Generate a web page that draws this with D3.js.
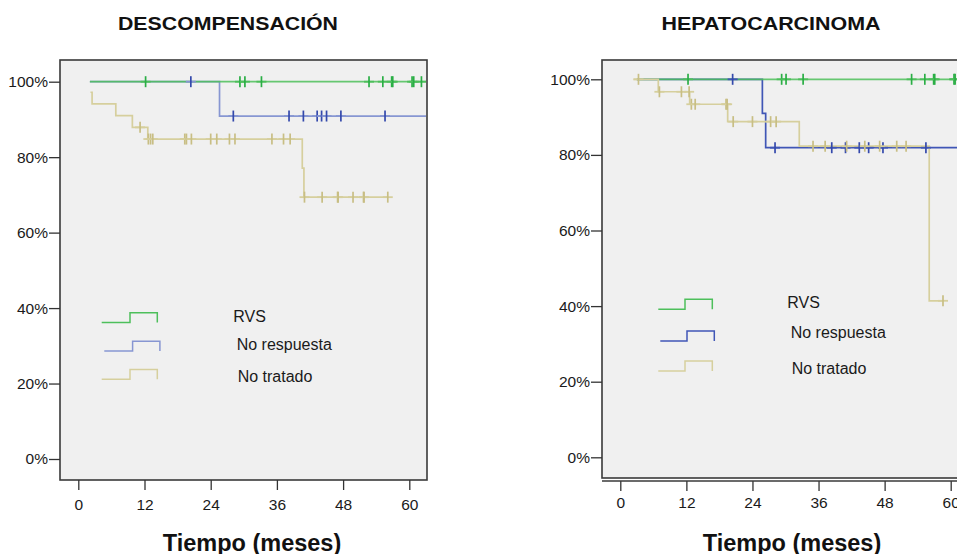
<!DOCTYPE html>
<html><head><meta charset="utf-8">
<script src="https://cdn.jsdelivr.net/npm/d3@7"></script>
<style>
html,body{margin:0;padding:0;background:#fff;}
svg{display:block;font-family:"Liberation Sans",Arial,sans-serif;}
</style></head>
<body>
<svg id="chart" width="957" height="554"></svg>
<script>
// ---------- DATA ----------
const monthTicks = [0, 12, 24, 36, 48, 60];
const pctTicks = [0, 20, 40, 60, 80, 100];
const seriesNames = ["RVS", "No respuesta", "No tratado"];
const panelTitles = ["DESCOMPENSACIÓN", "HEPATOCARCINOMA"];
const xTitle = "Tiempo (meses)";

// Descompensación: steps [month, survival %], end month, censored months
const descRVSSteps = [[2.1, 100]];
const descRVSEnd = 64;
const descRVSCens = [12.2, 29.3, 30.2, 33.2, 52.7, 55.2, 56.8, 57.0, 60.5, 60.8, 62.2];

const descNRSteps = [[2.1, 100], [25.6, 90.9]];
const descNREnd = 64;
const descNRCens = [20.4, 28.1, 38.2, 40.8, 43.3, 44.1, 45.0, 47.6, 55.6];

const descNTSteps = [[2.2, 97.2], [2.5, 94.1], [6.8, 91.0], [9.8, 87.9], [12.6, 84.8], [40.6, 77.1], [40.9, 69.4]];
const descNTEnd = 56.1;
const descNTCens = [11.2, 12.7, 13.1, 13.5, 19.3, 19.6, 20.5, 24.0, 25.1, 27.4, 28.4, 35.1, 37.2, 38.4,
                    41.0, 44.2, 47.0, 47.1, 49.8, 51.7, 51.8, 56.1];

// Hepatocarcinoma
const hepRVSSteps = [[3.0, 100]];
const hepRVSEnd = 64;
const hepRVSCens = [12.3, 29.3, 30.1, 33.2, 52.9, 55.3, 56.9, 57.1, 60.6, 60.8, 62.2];

const hepNRSteps = [[3.0, 100], [25.8, 91.0], [26.4, 81.9]];
const hepNREnd = 64;
const hepNRCens = [20.4, 28.1, 38.4, 40.9, 43.4, 45.1, 47.7, 55.5];

const hepNTSteps = [[2.4, 100], [6.9, 96.7], [12.6, 93.4], [19.5, 88.8], [32.5, 82.3], [56.1, 41.4]];
const hepNTEnd = 58.6;
const hepNTCens = [3.3, 7.1, 11.1, 12.5, 12.9, 13.6, 19.2, 19.4, 20.5, 24.0, 27.3, 28.3,
                   35.0, 37.2, 41.1, 44.4, 47.1, 50.2, 51.9, 58.6];

// ---------- LAYOUT / STYLE ----------
const svg = d3.select("#chart");
const lineColors = ["#4dbf5b", "#8a99d2", "#d6cf9d"];
const censColors = ["#2aae45", "#3449ac", "#c8be84"];
const drawOrder = [1, 0, 2];

const panels = [
  { title: panelTitles[0], titleX: 228, titleLen: 220,
    box: {x0: 60, y0: 60, x1: 427, y1: 480}, axisY: 480, labelPad: 8.5,
    xRange: [78.3, 409.3], yRange: [459, 81.7], xTitleX: 252,
    blueLine: "#8796d2",
    series: [
      {steps: descRVSSteps, end: descRVSEnd, cens: descRVSCens},
      {steps: descNRSteps, end: descNREnd, cens: descNRCens},
      {steps: descNTSteps, end: descNTEnd, cens: descNTCens}],
    legend: {sx: [101.7, 130, 157.3], dx: [0, 2.6, 0], sy: [322.5, 351, 379.3], h: 9.7,
             tx: [233.3, 236.7, 237.7], ty: [316.5, 344, 376]} },
  { title: panelTitles[1], titleX: 771, titleLen: 219,
    box: {x0: 602, y0: 60, x1: 969, y1: 478}, axisY: 481, labelPad: 5.5, doubleAxis: true,
    xRange: [620.3, 950.7], yRange: [457.3, 79.3], xTitleX: 792,
    blueLine: "#4056b6",
    series: [
      {steps: hepRVSSteps, end: hepRVSEnd, cens: hepRVSCens},
      {steps: hepNRSteps, end: hepNREnd, cens: hepNRCens},
      {steps: hepNTSteps, end: hepNTEnd, cens: hepNTCens}],
    legend: {sx: [658.3, 685, 712.3], dx: [0, 2, 0], sy: [309.3, 341, 371], h: 10,
             tx: [787.3, 790.7, 791.7], ty: [302.5, 332.5, 368.3]} }
];

panels.forEach((p, pi) => {
  const g = svg.append("g");
  const b = p.box;
  const x = d3.scaleLinear().domain([0, 60]).range(p.xRange);
  const y = d3.scaleLinear().domain([0, 100]).range(p.yRange);

  // title
  g.append("text").attr("x", p.titleX).attr("y", 30).attr("text-anchor", "middle")
    .attr("font-size", 19).attr("font-weight", "bold").attr("fill", "#111")
    .attr("textLength", p.titleLen).attr("lengthAdjust", "spacingAndGlyphs").text(p.title);

  // plot background & box
  g.append("rect").attr("x", b.x0).attr("y", b.y0).attr("width", b.x1 - b.x0).attr("height", b.y1 - b.y0)
    .attr("fill", "#f0f0f0").attr("stroke", "#3a3a3a").attr("stroke-width", 1.6);

  const clipId = "clip" + pi;
  svg.append("defs").append("clipPath").attr("id", clipId)
    .append("rect").attr("x", b.x0 + 1).attr("y", b.y0 + 1).attr("width", b.x1 - b.x0 - 2).attr("height", b.y1 - b.y0 - 2);

  // axes
  const yAxis = d3.axisLeft(y).tickValues(pctTicks).tickSize(11).tickPadding(1)
    .tickFormat(d => d + "%");
  const ya = g.append("g").attr("transform", `translate(${b.x0},0)`).call(yAxis);
  ya.select(".domain").remove();
  ya.selectAll(".tick line").attr("stroke", "#333").attr("stroke-width", 1.3);
  ya.selectAll("text").attr("font-size", 15.5).attr("fill", "#1a1a1a").attr("font-family", "'Liberation Sans',Arial,sans-serif");

  const xAxis = d3.axisBottom(x).tickValues(monthTicks).tickSize(10).tickPadding(p.labelPad);
  const xa = g.append("g").attr("transform", `translate(0,${p.axisY})`).call(xAxis);
  xa.select(".domain").remove();
  xa.selectAll(".tick line").attr("stroke", "#333").attr("stroke-width", 1.3);
  xa.selectAll("text").attr("font-size", 15.5).attr("fill", "#1a1a1a").attr("font-family", "'Liberation Sans',Arial,sans-serif");
  if (p.doubleAxis) {
    g.append("line").attr("x1", b.x0).attr("x2", b.x1).attr("y1", p.axisY).attr("y2", p.axisY)
      .attr("stroke", "#3a3a3a").attr("stroke-width", 1.3);
  }

  // x title
  g.append("text").attr("x", p.xTitleX).attr("y", 550.5).attr("text-anchor", "middle")
    .attr("font-size", 23.5).attr("font-weight", "bold").attr("fill", "#111").text(xTitle);

  // curves
  const plot = g.append("g").attr("clip-path", `url(#${clipId})`);
  const line = d3.line().x(d => x(d[0])).y(d => y(d[1])).curve(d3.curveStepAfter);
  const colOf = si => si === 1 ? p.blueLine : lineColors[si];
  drawOrder.forEach(si => {
    const s = p.series[si];
    const pts = s.steps.concat([[s.end, s.steps[s.steps.length - 1][1]]]);
    plot.append("path").datum(pts).attr("d", line).attr("fill", "none")
      .attr("stroke", colOf(si)).attr("stroke-width", 1.7).attr("opacity", si === 0 ? 0.85 : 1);
  });
  drawOrder.forEach(si => {
    const s = p.series[si];
    const survAt = t => { let v = s.steps[0][1]; s.steps.forEach(st => { if (st[0] <= t) v = st[1]; }); return v; };
    const cg = plot.append("g");
    s.cens.forEach(t => {
      const cx = x(t), cy = y(survAt(t));
      cg.append("line").attr("x1", cx - 5).attr("x2", cx + 5).attr("y1", cy).attr("y2", cy)
        .attr("stroke", colOf(si)).attr("stroke-width", 1.8);
      cg.append("line").attr("x1", cx).attr("x2", cx).attr("y1", cy - 5.5).attr("y2", cy + 5.5)
        .attr("stroke", censColors[si]).attr("stroke-width", 1.7);
    });
  });

  // legend
  const L = p.legend;
  seriesNames.forEach((name, si) => {
    const x0 = L.sx[0] + L.dx[si], xm = L.sx[1] + L.dx[si], x1 = L.sx[2] + L.dx[si];
    const yb = L.sy[si], yt = yb - L.h;
    g.append("path").attr("d", `M${x0},${yb}H${xm}V${yt}H${x1}V${yb}`)
      .attr("fill", "none").attr("stroke", colOf(si)).attr("stroke-width", 1.5);
    g.append("text").attr("x", L.tx[si]).attr("y", L.ty[si]).attr("dy", "0.36em")
      .attr("font-size", 16).attr("fill", "#1a1a1a").text(name);
  });
});
</script>
</body></html>
